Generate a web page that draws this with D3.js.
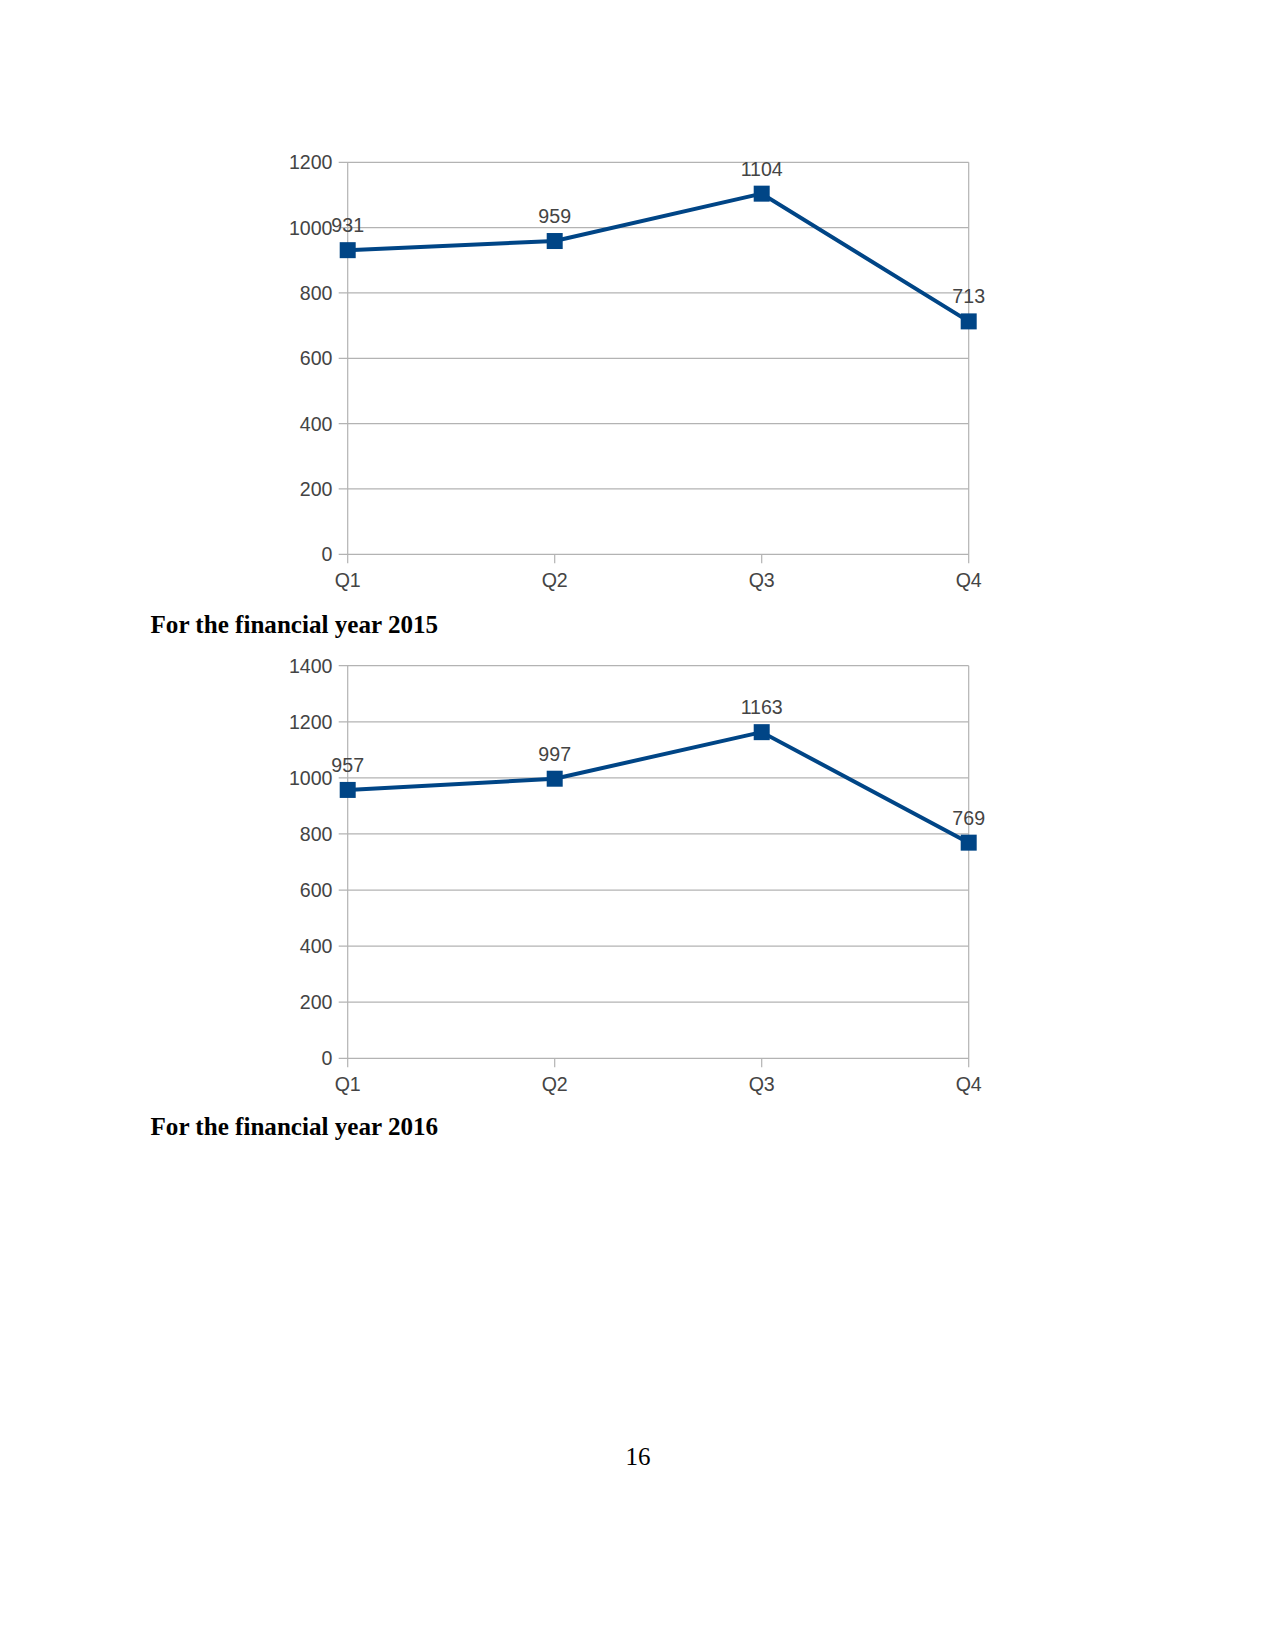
<!DOCTYPE html>
<html><head><meta charset="utf-8">
<script src="https://cdn.jsdelivr.net/npm/d3@7"></script>
<style>body{margin:0;background:#fff}svg{display:block}</style>
</head><body>
<svg id="page" width="1275" height="1650"></svg>
<script>
const categories = ["Q1","Q2","Q3","Q4"];
const values2015 = [931, 959, 1104, 713];
const values2016 = [957, 997, 1163, 769];
const ticks2015 = [0,200,400,600,800,1000,1200];
const ticks2016 = [0,200,400,600,800,1000,1200,1400];
const titles = ["For the financial year 2015","For the financial year 2016"];
const pageNumber = "16";

const svg = d3.select("#page");
const blue = "#004586";
const grid = "#b3b3b3";
const textCol = "#444";
const fs = 19.6;

function drawChart(values, ticks, top, bottom) {
  const left = 347.7, right = 968.7;
  const x = d3.scalePoint().domain(categories).range([left, right]);
  const y = d3.scaleLinear().domain([0, d3.max(ticks)]).range([bottom, top]);
  const g = svg.append("g");
  g.selectAll("line.grid").data(ticks).join("line")
    .attr("x1", left - 9).attr("x2", right)
    .attr("y1", d => y(d)).attr("y2", d => y(d))
    .attr("stroke", grid).attr("stroke-width", 1.2);
  g.append("line").attr("x1", left).attr("x2", left).attr("y1", top).attr("y2", bottom + 9)
    .attr("stroke", grid).attr("stroke-width", 1.2);
  g.append("line").attr("x1", right).attr("x2", right).attr("y1", top).attr("y2", bottom + 9)
    .attr("stroke", grid).attr("stroke-width", 1.2);
  g.selectAll("line.xt").data(categories.slice(1, 3)).join("line")
    .attr("x1", d => x(d)).attr("x2", d => x(d)).attr("y1", bottom).attr("y2", bottom + 9)
    .attr("stroke", grid).attr("stroke-width", 1.2);
  g.selectAll("text.yt").data(ticks).join("text")
    .attr("x", 332.5).attr("y", d => y(d)).attr("dy", "0.36em")
    .attr("text-anchor", "end").attr("font-family", "Liberation Sans, Arial, sans-serif")
    .attr("font-size", fs).attr("fill", textCol).text(d => d);
  g.selectAll("text.xl").data(categories).join("text")
    .attr("x", d => x(d)).attr("y", bottom + 33)
    .attr("text-anchor", "middle").attr("font-family", "Liberation Sans, Arial, sans-serif")
    .attr("font-size", fs).attr("fill", textCol).text(d => d);
  const line = d3.line().x((d, i) => x(categories[i])).y(d => y(d));
  g.append("path").datum(values).attr("d", line)
    .attr("fill", "none").attr("stroke", blue).attr("stroke-width", 4).attr("stroke-linejoin", "round");
  g.selectAll("rect.m").data(values).join("rect")
    .attr("x", (d, i) => x(categories[i]) - 8).attr("y", d => y(d) - 8)
    .attr("width", 16).attr("height", 16).attr("fill", blue);
  g.selectAll("text.dl").data(values).join("text")
    .attr("x", (d, i) => x(categories[i])).attr("y", d => y(d) - 18)
    .attr("text-anchor", "middle").attr("font-family", "Liberation Sans, Arial, sans-serif")
    .attr("font-size", fs).attr("fill", textCol).text(d => d);
}

drawChart(values2015, ticks2015, 162.3, 554.3);
drawChart(values2016, ticks2016, 665.7, 1058.3);

const tY = [633, 1135];
titles.forEach((t, i) => {
  svg.append("text").attr("x", 150.5).attr("y", tY[i])
    .attr("font-family", "Liberation Serif, Times New Roman, serif").attr("font-weight", "bold")
    .attr("font-size", 25.1).attr("fill", "#000").text(t);
});
svg.append("text").attr("x", 638).attr("y", 1465).attr("text-anchor", "middle")
  .attr("font-family", "Liberation Serif, Times New Roman, serif")
  .attr("font-size", 25).attr("fill", "#000").text(pageNumber);
</script>
</body></html>
